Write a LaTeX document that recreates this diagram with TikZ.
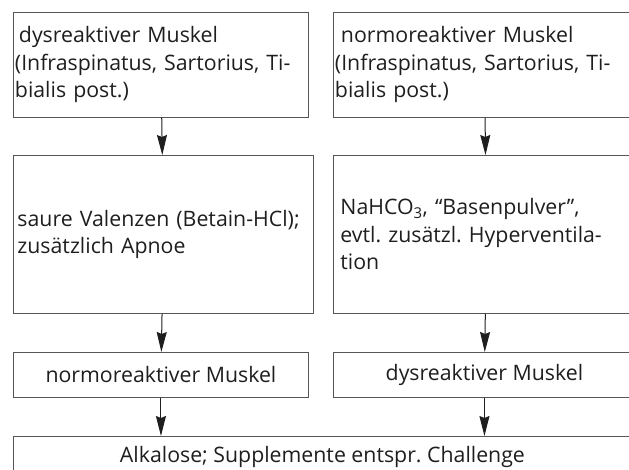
\documentclass[tikz,border=0pt]{standalone}
\usepackage{fontspec}
\setmainfont{Open Sans}
\frenchspacing
\usetikzlibrary{arrows.meta}
\definecolor{boxline}{HTML}{555555}
\definecolor{txt}{HTML}{1E1E1E}
\tikzset{
  box/.style={draw=boxline, line width=0.9pt, anchor=north west, inner xsep=1.5pt, inner ysep=0pt,
    text=txt, align=left, font=\fontsize{21.3}{27.5}\selectfont\frenchspacing},
  cbox/.style={draw=boxline, line width=0.9pt, anchor=north west, inner sep=0pt,
    text=txt, align=center, font=\fontsize{21.3}{27.5}\selectfont\frenchspacing},
  flow/.style={draw=txt, line width=1pt, -{Stealth[length=20pt,width=10pt,inset=2pt]}}
}
\begin{document}
\begin{tikzpicture}[x=1pt,y=-1pt]
\useasboundingbox (0,0) rectangle (629,470);
\clip (0,0) rectangle (629,470);
\node[box, minimum width=295pt, minimum height=105pt, text width=292pt] (tl) at (13,12)
  {\hspace*{4pt}dysreaktiver Muskel\\(Infraspinatus, Sartorius, Ti-\\bialis post.)};
\node[box, minimum width=302pt, minimum height=105pt, text width=299pt] (tr) at (333,12)
  {\hspace*{6pt}normoreaktiver Muskel\\(Infraspinatus, Sartorius, Ti-\\bialis post.)};
\node[box, minimum width=295pt, minimum height=158pt, text width=292pt, inner xsep=4pt] (ml) at (13,155)
  {saure Valenzen (Betain-HCl);\\zusätzlich Apnoe};
\node[box, minimum width=302pt, minimum height=158pt, text width=292pt, inner xsep=7pt] (mr) at (333,155)
  {NaHCO\textsubscript{3}, “Basenpulver”,\\evtl. zusätzl. Hyperventila-\\tion};
\node[cbox, minimum width=295pt, minimum height=45pt] (sl) at (13,352) {normoreaktiver Muskel};
\node[cbox, minimum width=302pt, minimum height=45pt] (sr) at (333,352) {dysreaktiver Muskel};
\node[cbox, minimum width=618pt, minimum height=42pt] (bt) at (13,436) {Alkalose; Supplemente entspr. Challenge};
\draw[flow] (tl) -- (ml);
\draw[flow] (tr) -- (mr);
\draw[flow] (ml) -- (sl);
\draw[flow] (mr) -- (sr);
\draw[flow] (sl.south) -- (sl.south |- bt.north);
\draw[flow] (sr.south) -- (sr.south |- bt.north);
\end{tikzpicture}
\end{document}
